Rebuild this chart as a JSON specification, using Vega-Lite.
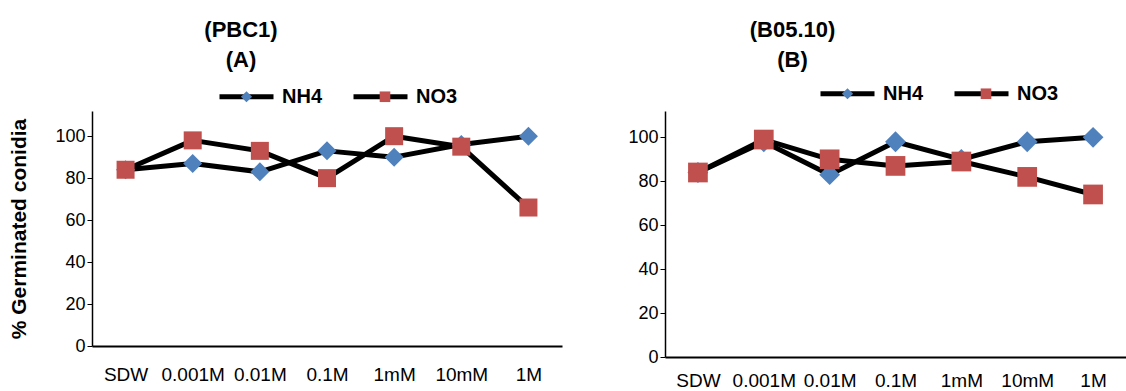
{
  "$schema": "https://vega.github.io/schema/vega-lite/v6.json",
  "background": "white",
  "padding": {"left": 8, "top": 18, "right": 0, "bottom": 0},
  "config": {
    "font": "Liberation Sans",
    "view": {"stroke": null},
    "axis": {"grid": false, "domainColor": "black", "tickColor": "black", "labelColor": "black", "labelFont": "Liberation Sans", "labelFontSize": 18, "titleFont": "Liberation Sans", "titleColor": "black"},
    "legend": {"labelFont": "Liberation Sans", "labelColor": "black", "labelFontSize": 20, "labelFontWeight": "bold"}
  },
  "datasets": {
    "pbc1": [
      {"conc": "SDW", "series": "NH4", "value": 84},
      {"conc": "0.001M", "series": "NH4", "value": 87},
      {"conc": "0.01M", "series": "NH4", "value": 83},
      {"conc": "0.1M", "series": "NH4", "value": 93},
      {"conc": "1mM", "series": "NH4", "value": 90},
      {"conc": "10mM", "series": "NH4", "value": 96},
      {"conc": "1M", "series": "NH4", "value": 100},
      {"conc": "SDW", "series": "NO3", "value": 84},
      {"conc": "0.001M", "series": "NO3", "value": 98},
      {"conc": "0.01M", "series": "NO3", "value": 93},
      {"conc": "0.1M", "series": "NO3", "value": 80},
      {"conc": "1mM", "series": "NO3", "value": 100},
      {"conc": "10mM", "series": "NO3", "value": 95},
      {"conc": "1M", "series": "NO3", "value": 66}
    ],
    "b0510": [
      {"conc": "SDW", "series": "NH4", "value": 84},
      {"conc": "0.001M", "series": "NH4", "value": 98},
      {"conc": "0.01M", "series": "NH4", "value": 83},
      {"conc": "0.1M", "series": "NH4", "value": 98},
      {"conc": "1mM", "series": "NH4", "value": 90},
      {"conc": "10mM", "series": "NH4", "value": 98},
      {"conc": "1M", "series": "NH4", "value": 100},
      {"conc": "SDW", "series": "NO3", "value": 84},
      {"conc": "0.001M", "series": "NO3", "value": 99},
      {"conc": "0.01M", "series": "NO3", "value": 90},
      {"conc": "0.1M", "series": "NO3", "value": 87},
      {"conc": "1mM", "series": "NO3", "value": 89},
      {"conc": "10mM", "series": "NO3", "value": 82},
      {"conc": "1M", "series": "NO3", "value": 74}
    ]
  },
  "spacing": 65,
  "resolve": {
    "scale": {"x": "independent", "y": "independent", "color": "independent", "shape": "independent", "stroke": "independent"},
    "legend": {"color": "independent", "shape": "independent", "stroke": "independent"}
  },
  "hconcat": [
    {
      "width": 470,
      "height": 235,
      "data": {"name": "pbc1"},
      "title": {"text": ["(PBC1)", "(A)"], "fontSize": 22, "fontWeight": "bold", "color": "black", "anchor": "middle", "frame": "group", "dx": -86, "lineHeight": 30, "offset": -4.5},
      "encoding": {
        "x": {"field": "conc", "type": "nominal", "sort": ["SDW", "0.001M", "0.01M", "0.1M", "1mM", "10mM", "1M"], "scale": {"type": "point", "padding": 0.5}, "axis": {"title": null, "ticks": false, "labelAngle": 0, "labelFontSize": 19, "labelPadding": 19, "domainWidth": 2}},
        "y": {"field": "value", "type": "quantitative", "scale": {"domain": [0, 112], "nice": false}, "axis": {"values": [0, 20, 40, 60, 80, 100], "title": "% Germinated conidia", "titleFontSize": 21, "titleFontWeight": "bold", "titlePadding": 25, "tickSize": 5, "domainWidth": 1.5}}
      },
      "layer": [
        {
          "mark": {"type": "line", "strokeWidth": 5, "strokeJoin": "round", "strokeCap": "round"},
          "encoding": {"stroke": {"field": "series", "type": "nominal", "scale": {"domain": ["NH4", "NO3"], "range": ["black", "black"]}, "legend": {"orient": "none", "legendX": 125, "legendY": -44, "direction": "horizontal", "title": null, "symbolType": "stroke", "symbolSize": 2916, "symbolStrokeWidth": 5, "labelOffset": 6, "columnPadding": 20}}}
        },
        {
          "mark": {"type": "point", "filled": true, "opacity": 1, "size": 10000},
          "encoding": {
            "color": {"field": "series", "type": "nominal", "scale": {"range": ["#4F81BD", "#C0504D"]}, "legend": {"orient": "none", "legendX": 125, "legendY": -44, "direction": "horizontal", "title": null, "symbolSize": 3481, "symbolStrokeWidth": 0, "labelOffset": 6, "labelExpr": "''", "columnPadding": 73.5}},
            "shape": {"field": "series", "type": "nominal", "scale": {"range": ["M0,-0.19L0.19,0L0,0.19L-0.19,0Z", "M-0.18,-0.18H0.18V0.18H-0.18Z"]}, "legend": {"orient": "none", "legendX": 125, "legendY": -44, "direction": "horizontal", "title": null, "symbolSize": 3481, "symbolStrokeWidth": 0, "labelOffset": 6, "labelExpr": "''", "columnPadding": 73.5}}
          }
        }
      ]
    },
    {
      "width": 461,
      "height": 246,
      "data": {"name": "b0510"},
      "title": {"text": ["(B05.10)", "(B)"], "fontSize": 22, "fontWeight": "bold", "color": "black", "anchor": "middle", "frame": "group", "dx": -103, "lineHeight": 30, "offset": -7.5},
      "encoding": {
        "x": {"field": "conc", "type": "nominal", "sort": ["SDW", "0.001M", "0.01M", "0.1M", "1mM", "10mM", "1M"], "scale": {"type": "point", "padding": 0.5}, "axis": {"title": null, "ticks": false, "labelAngle": 0, "labelFontSize": 19, "labelPadding": 14, "domainWidth": 2}},
        "y": {"field": "value", "type": "quantitative", "scale": {"domain": [0, 112], "nice": false}, "axis": {"values": [0, 20, 40, 60, 80, 100], "title": null, "tickSize": 5, "domainWidth": 1.5}}
      },
      "layer": [
        {
          "mark": {"type": "line", "strokeWidth": 5, "strokeJoin": "round", "strokeCap": "round"},
          "encoding": {"stroke": {"field": "series", "type": "nominal", "scale": {"domain": ["NH4", "NO3"], "range": ["black", "black"]}, "legend": {"orient": "none", "legendX": 153, "legendY": -47, "direction": "horizontal", "title": null, "symbolType": "stroke", "symbolSize": 2916, "symbolStrokeWidth": 5, "labelOffset": 6, "columnPadding": 20}}}
        },
        {
          "mark": {"type": "point", "filled": true, "opacity": 1, "size": 12000},
          "encoding": {
            "color": {"field": "series", "type": "nominal", "scale": {"range": ["#4F81BD", "#C0504D"]}, "legend": {"orient": "none", "legendX": 153, "legendY": -47, "direction": "horizontal", "title": null, "symbolSize": 3481, "symbolStrokeWidth": 0, "labelOffset": 6, "labelExpr": "''", "columnPadding": 73.5}},
            "shape": {"field": "series", "type": "nominal", "scale": {"range": ["M0,-0.19L0.19,0L0,0.19L-0.19,0Z", "M-0.18,-0.18H0.18V0.18H-0.18Z"]}, "legend": {"orient": "none", "legendX": 153, "legendY": -47, "direction": "horizontal", "title": null, "symbolSize": 3481, "symbolStrokeWidth": 0, "labelOffset": 6, "labelExpr": "''", "columnPadding": 73.5}}
          }
        }
      ]
    }
  ]
}
